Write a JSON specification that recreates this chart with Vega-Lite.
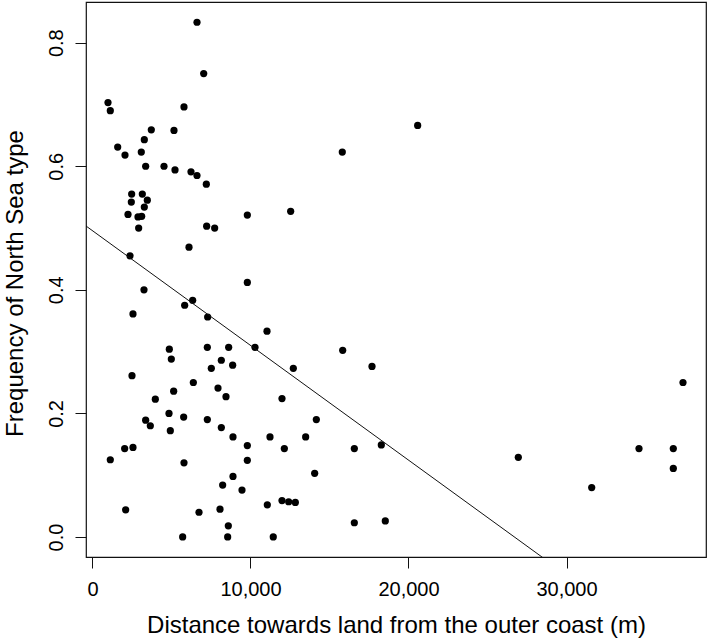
{
  "$schema": "https://vega.github.io/schema/vega-lite/v6.json",
  "width": 620,
  "height": 555,
  "autosize": {"type": "none"},
  "padding": {"left": 86, "top": 2, "right": 3, "bottom": 83},
  "background": "white",
  "config": {
    "view": {"stroke": "#111111", "strokeWidth": 1.2},
    "font": "Liberation Sans",
    "axis": {
      "domain": false,
      "grid": false,
      "tickColor": "#111111",
      "tickWidth": 1,
      "tickSize": 11,
      "labelColor": "#000000",
      "labelFontSize": 20,
      "labelFont": "Liberation Sans",
      "labelOverlap": false,
      "labelFlush": false,
      "titleColor": "#000000",
      "titleFont": "Liberation Sans",
      "titleFontSize": 24,
      "titleFontWeight": "normal"
    }
  },
  "datasets": {
    "pts": [
      {"distance": 6614, "frequency": 0.833},
      {"distance": 7038, "frequency": 0.750},
      {"distance": 981, "frequency": 0.703},
      {"distance": 1127, "frequency": 0.690},
      {"distance": 5791, "frequency": 0.696},
      {"distance": 3722, "frequency": 0.659},
      {"distance": 5158, "frequency": 0.658},
      {"distance": 3280, "frequency": 0.643},
      {"distance": 1595, "frequency": 0.631},
      {"distance": 2057, "frequency": 0.618},
      {"distance": 3089, "frequency": 0.623},
      {"distance": 3365, "frequency": 0.600},
      {"distance": 4525, "frequency": 0.600},
      {"distance": 5222, "frequency": 0.594},
      {"distance": 6234, "frequency": 0.591},
      {"distance": 6614, "frequency": 0.585},
      {"distance": 7205, "frequency": 0.571},
      {"distance": 15810, "frequency": 0.623},
      {"distance": 2479, "frequency": 0.555},
      {"distance": 3153, "frequency": 0.555},
      {"distance": 2458, "frequency": 0.542},
      {"distance": 3470, "frequency": 0.545},
      {"distance": 3280, "frequency": 0.534},
      {"distance": 2247, "frequency": 0.522},
      {"distance": 2880, "frequency": 0.518},
      {"distance": 3112, "frequency": 0.519},
      {"distance": 2922, "frequency": 0.500},
      {"distance": 7226, "frequency": 0.503},
      {"distance": 7732, "frequency": 0.500},
      {"distance": 9800, "frequency": 0.521},
      {"distance": 12542, "frequency": 0.527},
      {"distance": 6108, "frequency": 0.469},
      {"distance": 2373, "frequency": 0.455},
      {"distance": 9800, "frequency": 0.412},
      {"distance": 3259, "frequency": 0.400},
      {"distance": 6340, "frequency": 0.383},
      {"distance": 2563, "frequency": 0.361},
      {"distance": 5834, "frequency": 0.375},
      {"distance": 7289, "frequency": 0.356},
      {"distance": 11044, "frequency": 0.333},
      {"distance": 4863, "frequency": 0.304},
      {"distance": 4989, "frequency": 0.288},
      {"distance": 7268, "frequency": 0.307},
      {"distance": 8618, "frequency": 0.307},
      {"distance": 10285, "frequency": 0.307},
      {"distance": 15835, "frequency": 0.302},
      {"distance": 8154, "frequency": 0.286},
      {"distance": 7521, "frequency": 0.273},
      {"distance": 8871, "frequency": 0.278},
      {"distance": 12711, "frequency": 0.273},
      {"distance": 2500, "frequency": 0.261},
      {"distance": 6382, "frequency": 0.250},
      {"distance": 5137, "frequency": 0.236},
      {"distance": 7943, "frequency": 0.241},
      {"distance": 8449, "frequency": 0.227},
      {"distance": 11994, "frequency": 0.224},
      {"distance": 3977, "frequency": 0.223},
      {"distance": 4842, "frequency": 0.200},
      {"distance": 5770, "frequency": 0.194},
      {"distance": 3365, "frequency": 0.189},
      {"distance": 3660, "frequency": 0.180},
      {"distance": 7268, "frequency": 0.190},
      {"distance": 14167, "frequency": 0.190},
      {"distance": 4926, "frequency": 0.172},
      {"distance": 8154, "frequency": 0.177},
      {"distance": 8892, "frequency": 0.162},
      {"distance": 11234, "frequency": 0.162},
      {"distance": 13491, "frequency": 0.162},
      {"distance": 9800, "frequency": 0.148},
      {"distance": 12142, "frequency": 0.143},
      {"distance": 16572, "frequency": 0.143},
      {"distance": 2036, "frequency": 0.143},
      {"distance": 2563, "frequency": 0.145},
      {"distance": 1127, "frequency": 0.125},
      {"distance": 9800, "frequency": 0.124},
      {"distance": 5791, "frequency": 0.120},
      {"distance": 14061, "frequency": 0.103},
      {"distance": 8892, "frequency": 0.098},
      {"distance": 8238, "frequency": 0.084},
      {"distance": 9462, "frequency": 0.076},
      {"distance": 11994, "frequency": 0.059},
      {"distance": 12416, "frequency": 0.057},
      {"distance": 12838, "frequency": 0.056},
      {"distance": 11065, "frequency": 0.052},
      {"distance": 2099, "frequency": 0.044},
      {"distance": 8070, "frequency": 0.045},
      {"distance": 6741, "frequency": 0.040},
      {"distance": 16572, "frequency": 0.023},
      {"distance": 8597, "frequency": 0.018},
      {"distance": 5707, "frequency": 0.000},
      {"distance": 8555, "frequency": 0.000},
      {"distance": 11441, "frequency": 0.000},
      {"distance": 17690, "frequency": 0.276},
      {"distance": 37373, "frequency": 0.250},
      {"distance": 18280, "frequency": 0.149},
      {"distance": 26950, "frequency": 0.129},
      {"distance": 34589, "frequency": 0.143},
      {"distance": 36760, "frequency": 0.143},
      {"distance": 36760, "frequency": 0.111},
      {"distance": 31595, "frequency": 0.080},
      {"distance": 18532, "frequency": 0.026},
      {"distance": 20580, "frequency": 0.666}
    ],
    "fit": [
      {"distance": -411, "frequency": 0.5033},
      {"distance": 38829, "frequency": -0.2251}
    ]
  },
  "encoding": {
    "x": {
      "field": "distance",
      "type": "quantitative",
      "scale": {"domain": [-411, 38829], "nice": false, "zero": false},
      "axis": {
        "values": [0, 10000, 20000, 30000],
        "format": ",d",
        "title": "Distance towards land from the outer coast (m)",
        "labelBaseline": "alphabetic",
        "labelPadding": 27,
        "titleBaseline": "alphabetic",
        "titleAlign": "center",
        "titleX": 310,
        "titleY": 75
      }
    },
    "y": {
      "field": "frequency",
      "type": "quantitative",
      "scale": {"domain": [-0.0324, 0.8658], "nice": false, "zero": false},
      "axis": {
        "values": [0, 0.2, 0.4, 0.6, 0.8],
        "format": ".1f",
        "title": "Frequency of North Sea type",
        "labelAngle": -90,
        "labelAlign": "center",
        "labelBaseline": "alphabetic",
        "labelPadding": 13,
        "titleAngle": -90,
        "titleBaseline": "alphabetic",
        "titleAlign": "center",
        "titleX": -64,
        "titleY": 281
      }
    }
  },
  "layer": [
    {
      "data": {"name": "pts"},
      "mark": {"type": "circle", "size": 52, "color": "#000000", "opacity": 1}
    },
    {
      "data": {"name": "fit"},
      "mark": {"type": "line", "color": "#111111", "strokeWidth": 1, "clip": true}
    }
  ]
}
